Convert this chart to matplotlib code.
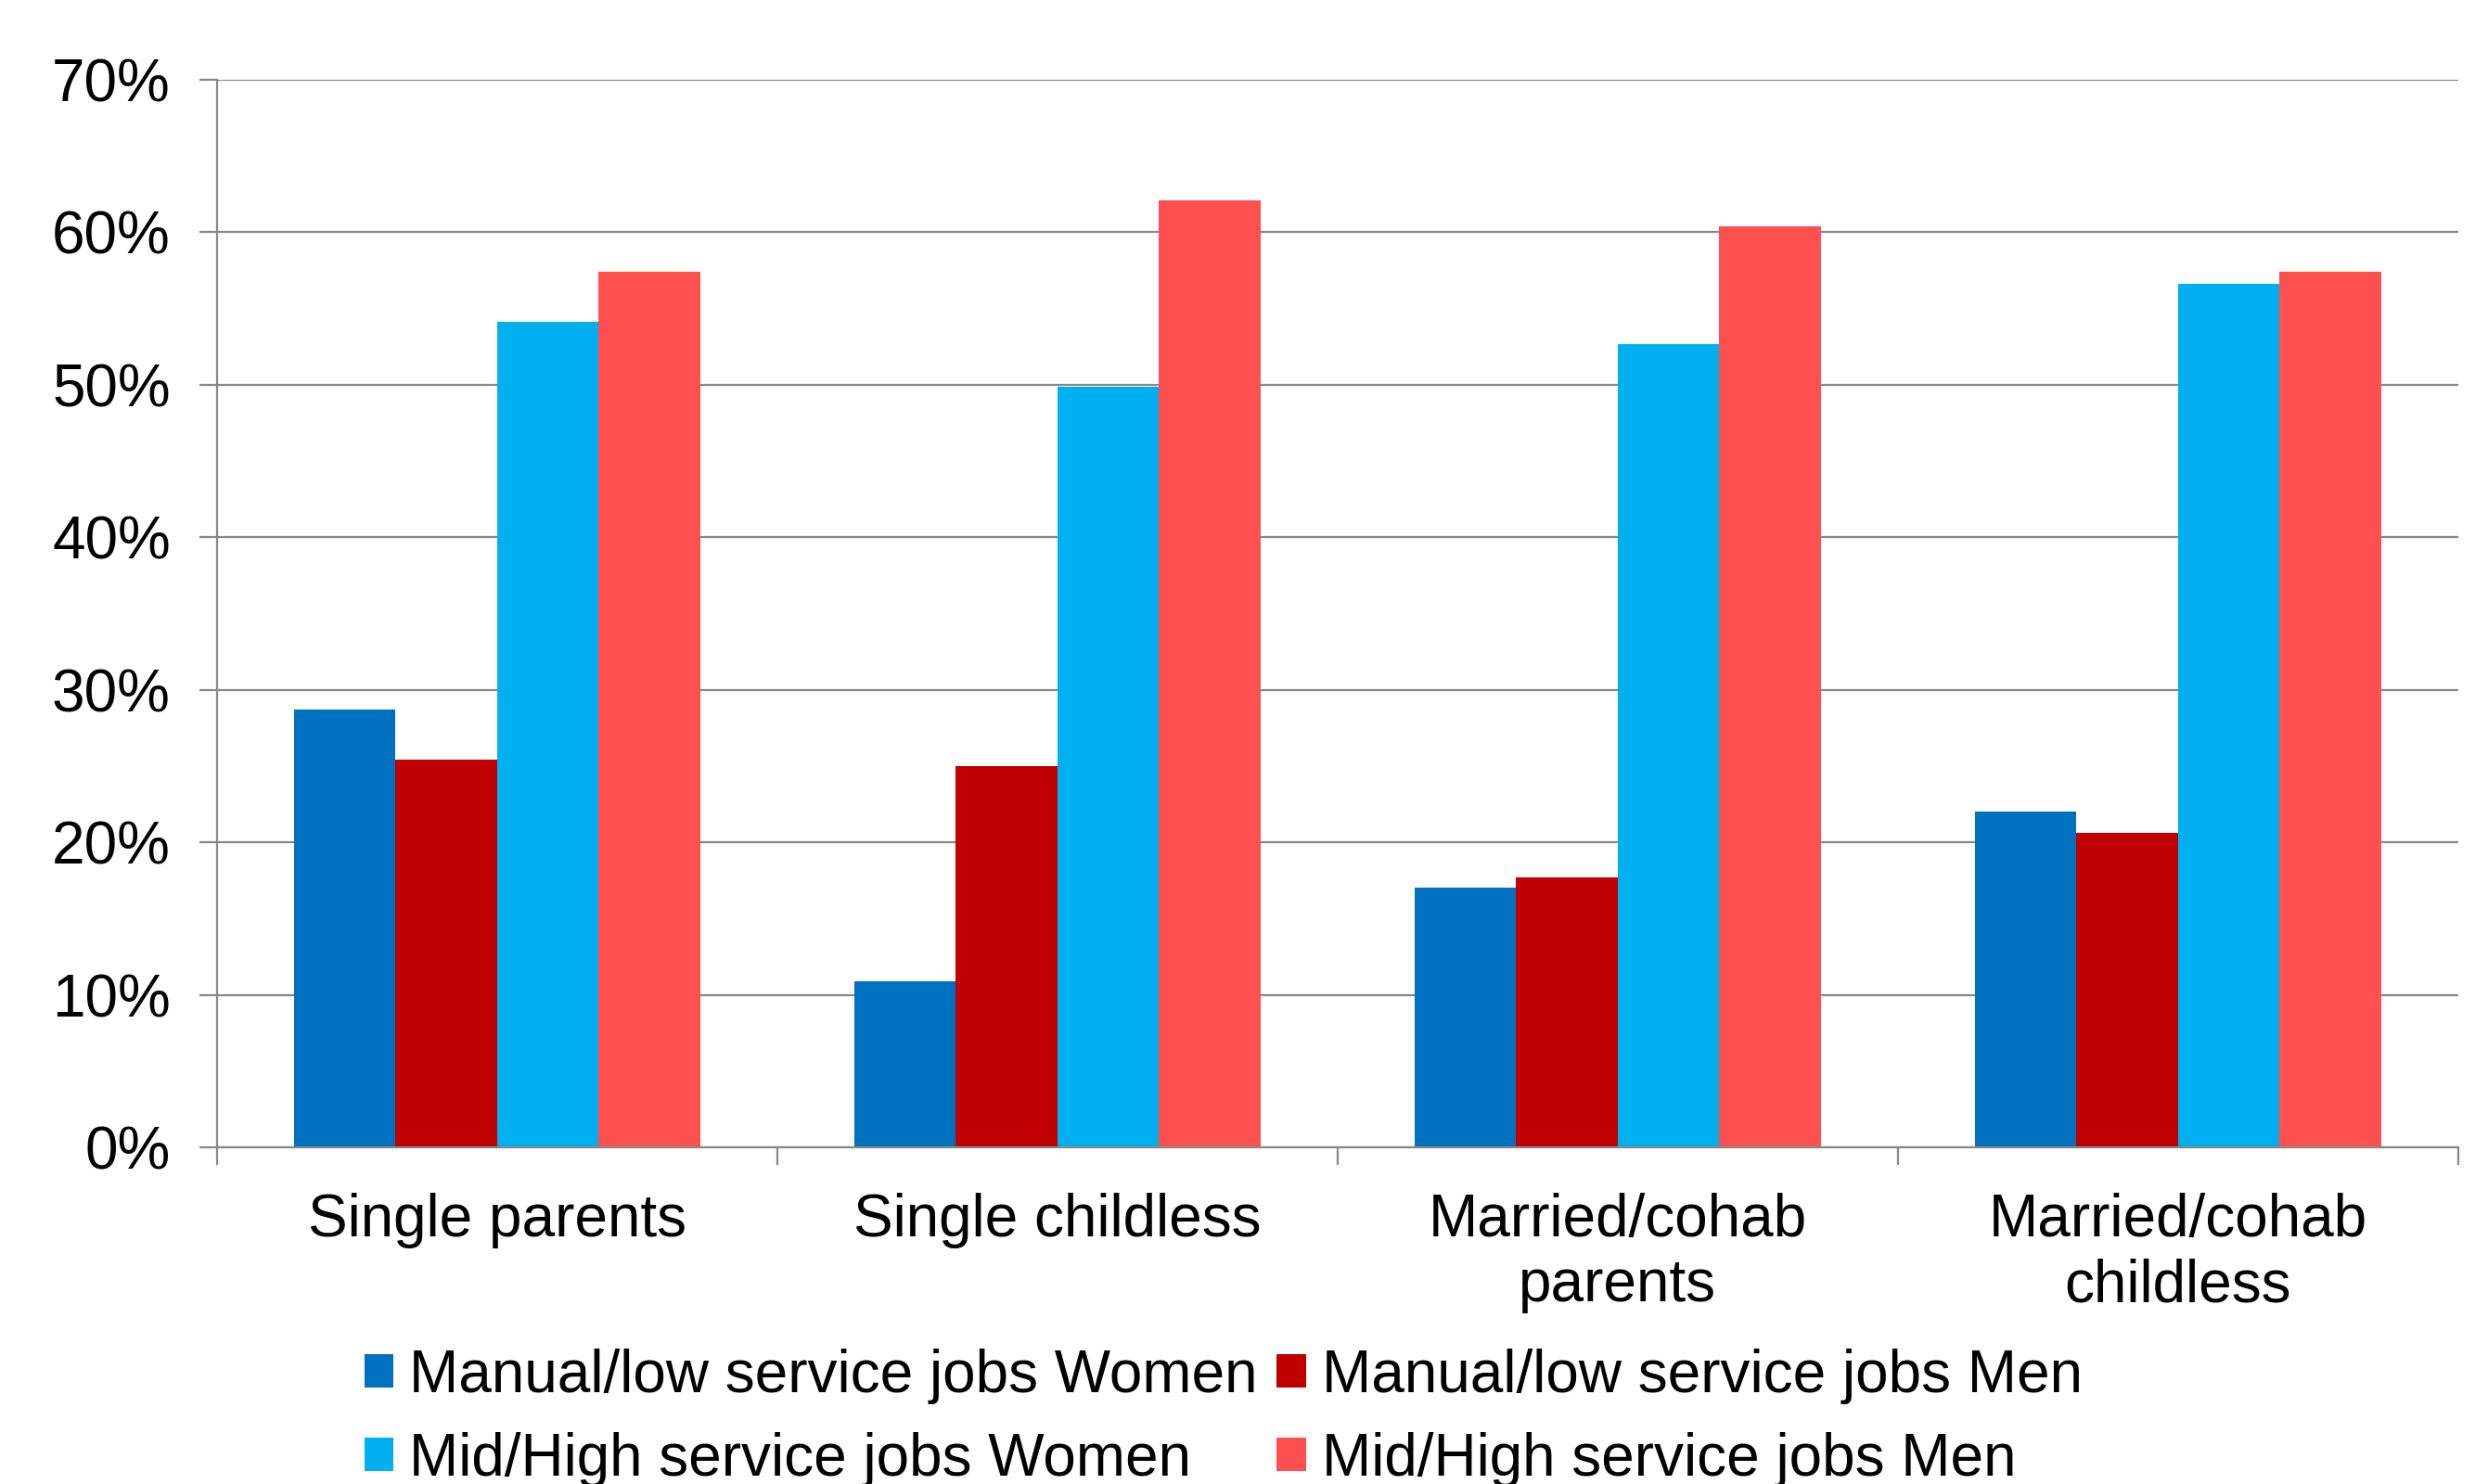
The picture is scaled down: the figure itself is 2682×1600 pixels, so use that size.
import numpy as np
import matplotlib.pyplot as plt
from matplotlib.ticker import PercentFormatter

# ── data ────────────────────────────────────────────────
categories = ['Single parents', 'Single childless',
              'Married/cohab\nparents', 'Married/cohab\nchildless']
series_names = ['Manual/low service jobs Women', 'Manual/low service jobs Men',
                'Mid/High service jobs Women', 'Mid/High service jobs Men']
manual_women = [28.7, 10.9, 17.0, 22.0]
manual_men = [25.4, 25.0, 17.7, 20.6]
midhigh_women = [54.1, 49.9, 52.7, 56.6]
midhigh_men = [57.4, 62.1, 60.4, 57.4]
colors = ['#0070C0', '#C00000', '#00B0F0', '#FF5050']

plt.rcParams['font.family'] = ['Liberation Sans', 'DejaVu Sans']
FS = 46

fig = plt.figure(figsize=(26.82, 16), dpi=100)
ax = fig.add_axes([0.0872, 0.2269, 0.9008, 0.7193])

x = np.arange(len(categories))
bw = 0.725 / 4
bars = []
for i, vals in enumerate([manual_women, manual_men, midhigh_women, midhigh_men]):
    b = ax.bar(x + (i - 1.5) * bw, vals, bw, color=colors[i],
               label=series_names[i], zorder=3)
    bars.append(b)

grid_c = '#888888'
ax.set_ylim(0, 70)
ax.set_xlim(-0.5, len(categories) - 0.5)
ax.set_yticks(np.arange(0, 71, 10))
ax.yaxis.set_major_formatter(PercentFormatter(decimals=0))
ax.grid(axis='y', color=grid_c, linewidth=1.6, zorder=0)

# boundary ticks (major) and centred labels (minor)
ax.set_xticks(np.arange(-0.5, len(categories), 1.0))
ax.set_xticklabels([])
ax.set_xticks(x, minor=True)
ax.set_xticklabels(categories, minor=True, fontsize=FS, linespacing=1.23)
ax.tick_params(axis='x', which='major', length=14, width=1.6, color=grid_c)
ax.tick_params(axis='x', which='minor', length=0, pad=35)
ax.tick_params(axis='y', length=14, width=1.6, color=grid_c, labelsize=FS, pad=22)

for s in ['top', 'right']:
    ax.spines[s].set_visible(False)
for s in ['left', 'bottom']:
    ax.spines[s].set_color(grid_c)
    ax.spines[s].set_linewidth(1.6)
ax.spines['bottom'].set_zorder(4)

order = [0, 2, 1, 3]
handles = [bars[i] for i in order]
labels = [series_names[i] for i in order]
fig.legend(handles, labels, loc='upper left', bbox_to_anchor=(0.1465, 0.0915),
           ncol=2, frameon=False, fontsize=FS, borderpad=0, borderaxespad=0,
           handlelength=0.49, handleheight=0.49, handletextpad=0.27,
           columnspacing=0.32, labelspacing=0.47)

fig.savefig('out.png', dpi=100)
